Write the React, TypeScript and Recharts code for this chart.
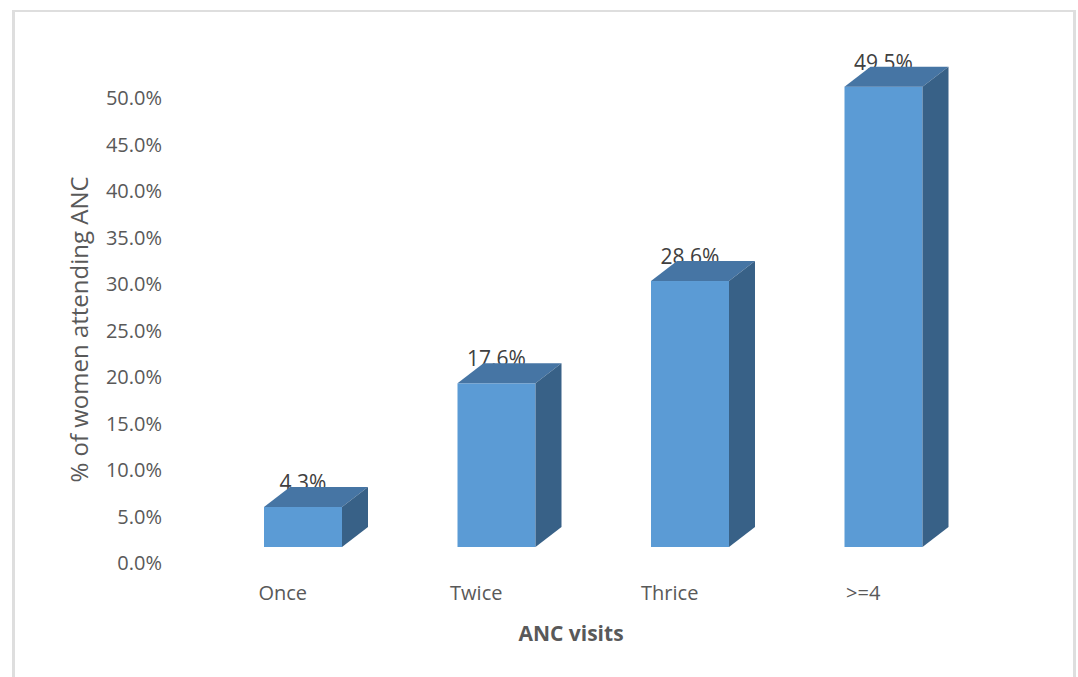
import React from 'react';
import { BarChart, Bar, XAxis, YAxis, Label } from 'recharts';

/* ─── Data ────────────────────────────────────────────────────────────── */

const CATEGORIES = ['Once', 'Twice', 'Thrice', '>=4'];
const PERCENT_WOMEN = [4.3, 17.6, 28.6, 49.5];
const Y_TICKS = [0, 5, 10, 15, 20, 25, 30, 35, 40, 45, 50];

const data = CATEGORIES.map((name, i) => ({ name, value: PERCENT_WOMEN[i] }));

/* ─── Style ───────────────────────────────────────────────────────────── */

const FONT = '"Open Sans", "Noto Sans", sans-serif';
const FRONT = '#5B9BD5';
const TOP = '#4675A4';
const SIDE = '#386187';
const AXIS_TEXT = '#595959';
const LABEL_TEXT = '#404040';

// fake 3D: depth offset of the back face, and how far the box floor sits above the 0 tick
const DX = 26;
const DY = 20;
const LIFT = 16;
const TICK_SHIFT = -20;

/* ─── 3D bar with its value label underneath the top face ─────────────── */

// eslint-disable-next-line @typescript-eslint/no-explicit-any
const Box3D = (props: any) => {
  const { x, y, width, height, value } = props;
  const top = y - LIFT;
  const bottom = y + height - LIFT;
  const right = x + width;
  return (
    <g>
      <text
        x={x + width / 2}
        y={top - DY + 3}
        textAnchor="middle"
        fontSize={21}
        fontFamily={FONT}
        fill={LABEL_TEXT}
      >
        {value.toFixed(1)}%
      </text>
      <rect x={x} y={top} width={width} height={bottom - top} fill={FRONT} />
      <polygon
        points={`${x},${top} ${x + DX},${top - DY} ${right + DX},${top - DY} ${right},${top}`}
        fill={TOP}
      />
      <polygon
        points={`${right},${top} ${right + DX},${top - DY} ${right + DX},${bottom - DY} ${right},${bottom}`}
        fill={SIDE}
      />
    </g>
  );
};

// eslint-disable-next-line @typescript-eslint/no-explicit-any
const CategoryTick = (props: any) => {
  const { x, y, payload } = props;
  return (
    <text
      x={x + TICK_SHIFT}
      y={y + 37}
      textAnchor="middle"
      fontSize={20}
      fontFamily={FONT}
      fill={AXIS_TEXT}
    >
      {payload.value}
    </text>
  );
};

// eslint-disable-next-line @typescript-eslint/no-explicit-any
const YTitle = (props: any) => {
  const { x, y, height } = props.viewBox;
  const cx = x + 88;
  const cy = y + height / 2 - 1;
  return (
    <text
      x={cx}
      y={cy}
      transform={`rotate(-90, ${cx}, ${cy})`}
      textAnchor="middle"
      fontSize={24}
      fontFamily={FONT}
      fill={AXIS_TEXT}
    >
      % of women attending ANC
    </text>
  );
};

// eslint-disable-next-line @typescript-eslint/no-explicit-any
const XTitle = (props: any) => {
  const { x, y, width } = props.viewBox;
  return (
    <text
      x={x + width / 2 - 22}
      y={y + 78}
      textAnchor="middle"
      fontSize={21}
      fontWeight="bold"
      fontFamily={FONT}
      fill={AXIS_TEXT}
    >
      ANC visits
    </text>
  );
};

/* ─── Main export ─────────────────────────────────────────────────────── */

export default function App() {
  return (
    <div style={{ position: 'fixed', left: 0, top: 0, width: 1078, height: 677, background: '#fff' }}>
      <div
        style={{
          position: 'absolute',
          left: 12,
          top: 10,
          width: 1064,
          height: 667,
          boxSizing: 'border-box',
          borderTop: '2px solid #dedede',
          borderLeft: '3px solid #dedede',
          borderRight: '3px solid #dedede',
        }}
      />
      <div style={{ position: 'absolute', left: 0, top: 0 }}>
        <BarChart
          width={1078}
          height={677}
          data={data}
          margin={{ top: 98, right: 98, bottom: 34, left: 0 }}
        >
          <XAxis
            dataKey="name"
            height={80}
            axisLine={false}
            tickLine={false}
            tickSize={0}
            tickMargin={0}
            tick={<CategoryTick />}
            interval={0}
          >
            <Label content={<XTitle />} />
          </XAxis>
          <YAxis
            width={206}
            domain={[0, 50]}
            ticks={Y_TICKS}
            axisLine={false}
            tickLine={false}
            tickSize={0}
            tickMargin={44}
            tickFormatter={(v: number) => `${v.toFixed(1)}%`}
            tick={{ fontSize: 20, fill: AXIS_TEXT, fontFamily: FONT }}
          >
            <Label content={<YTitle />} />
          </YAxis>
          <Bar dataKey="value" barSize={78} shape={<Box3D />} isAnimationActive={false} />
        </BarChart>
      </div>
    </div>
  );
}
